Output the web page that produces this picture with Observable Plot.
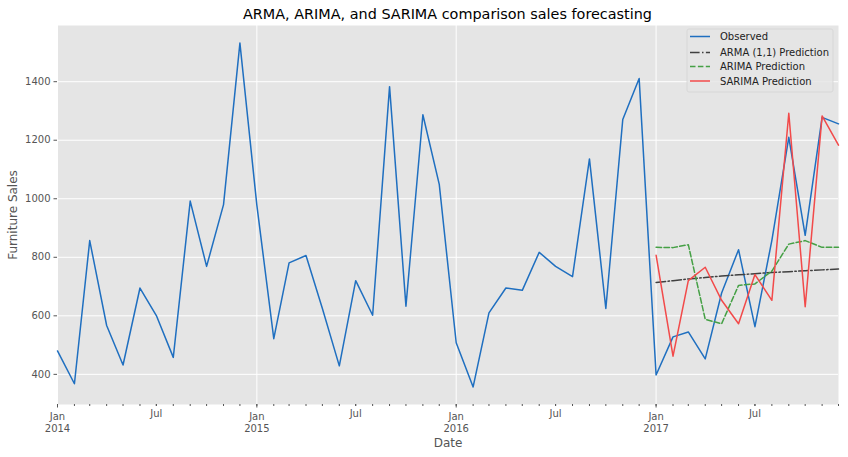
<!DOCTYPE html>
<html>
<head>
<meta charset="utf-8">
<script src="https://cdn.jsdelivr.net/npm/d3@7"></script>
<script src="https://cdn.jsdelivr.net/npm/@observablehq/plot@0.6"></script>
<style>
  body { margin: 0; background: #fff; }
  #chart { position: relative; width: 848px; height: 457px; }
  #chart svg.overlay { position: absolute; left: 0; top: 0; pointer-events: none; }
</style>
</head>
<body>
<div id="chart"></div>
<script>
// monthly furniture sales, Jan 2014 - Dec 2017
const observed = [480, 368, 857, 567, 432, 695, 601, 458, 992, 769, 980, 1532,
                  978, 522, 781, 806, 625, 429, 720, 602, 1383, 633, 1287, 1049,
                  508, 357, 610, 695, 687, 817, 769, 734, 1136, 625, 1271, 1411,
                  398, 528, 545, 453, 678, 826, 563, 858, 1210, 875, 1278, 1256]

// 2017 forecasts
const arma   = [714, 720, 726, 731, 736, 740, 744, 748, 751, 754, 757, 760]
const arima  = [834, 833, 843, 588, 573, 704, 709, 753, 845, 857, 834, 834]
const sarima = [807, 462, 720, 766, 653, 573, 741, 653, 1292, 631, 1283, 1183]

const yTicks = [400, 600, 800, 1000, 1200, 1400]

const months = d3.utcMonth.range(new Date(Date.UTC(2014, 0, 1)), new Date(Date.UTC(2018, 0, 1)))
const forecastMonths = months.slice(36)
const janTicks = months.filter(d => d.getUTCMonth() === 0)
const julTicks = months.filter(d => d.getUTCMonth() === 6)

const obsData = months.map((d, i) => ({date: d, value: observed[i]}))
const series = (vals) => forecastMonths.map((d, i) => ({date: d, value: vals[i]}))

const legendItems = [
  {label: 'Observed', color: '#1f6fc0', dash: null},
  {label: 'ARMA (1,1) Prediction', color: '#404040', dash: '9.6,2.4,1.5,2.4'},
  {label: 'ARIMA Prediction', color: '#45a045', dash: '5.5,2.4'},
  {label: 'SARIMA Prediction', color: '#f24a4a', dash: null},
]

let chart = Plot.plot({
  width: 848,
  height: 457,
  marginTop: 25,
  marginLeft: 57,
  marginRight: 10,
  marginBottom: 53,
  style: {
    backgroundColor: '#fff',
    fontFamily: 'DejaVu Sans',
    fontSize: '10px',
    color: '#555',
  },
  x: {
    type: 'utc',
    domain: [months[0], months[months.length - 1]],
  },
  y: {
    domain: [297, 1592],
  },
  marks: [
    Plot.frame({fill: '#E5E5E5'}),
    Plot.gridY(yTicks, {stroke: '#fff', strokeOpacity: 1, strokeWidth: 1}),
    Plot.gridX(janTicks, {stroke: '#fff', strokeOpacity: 1, strokeWidth: 1}),

    // month minor ticks
    Plot.axisX(months, {tickSize: 2, tickFormat: () => '', label: null, stroke: '#555'}),
    Plot.axisX(julTicks, {tickSize: 2, tickPadding: 3.5, tickFormat: () => 'Jul', label: null, stroke: '#555'}),
    Plot.axisX(janTicks, {
      tickSize: 3.5, tickPadding: 3.5, lineHeight: 1.2,
      tickFormat: d => 'Jan\n' + d.getUTCFullYear(),
      label: null, stroke: '#555'
    }),
    Plot.axisY(yTicks, {
      tickSize: 3.5, tickPadding: 3.5, tickFormat: d => String(d),
      label: null, stroke: '#555'
    }),
    // axis titles, larger font
    Plot.axisX([], {tickSize: 0, label: 'Date', labelAnchor: 'center', labelArrow: 'none', labelOffset: 42, fontSize: 12}),
    Plot.axisY([], {tickSize: 0, label: 'Furniture Sales', labelAnchor: 'center', labelArrow: 'none', labelOffset: 49, fontSize: 12}),

    Plot.lineY(obsData, {x: 'date', y: 'value', stroke: legendItems[0].color, strokeWidth: 1.5}),
    Plot.lineY(series(arma), {x: 'date', y: 'value', stroke: legendItems[1].color, strokeWidth: 1.5, strokeDasharray: legendItems[1].dash}),
    Plot.lineY(series(arima), {x: 'date', y: 'value', stroke: legendItems[2].color, strokeWidth: 1.5, strokeDasharray: legendItems[2].dash}),
    Plot.lineY(series(sarima), {x: 'date', y: 'value', stroke: legendItems[3].color, strokeWidth: 1.5}),
  ]
})

d3.select('#chart').append(() => chart)

// title + legend drawn on top, matplotlib style
const over = d3.select('#chart').append('svg')
  .attr('class', 'overlay')
  .attr('width', 848).attr('height', 457)
  .style('font-family', 'DejaVu Sans')

over.append('text')
  .attr('x', 447.5).attr('y', 18.5)
  .attr('text-anchor', 'middle')
  .attr('font-size', 14.4)
  .attr('fill', '#000')
  .text('ARMA, ARIMA, and SARIMA comparison sales forecasting')

const lg = over.append('g').attr('transform', 'translate(687,29)')
lg.append('rect')
  .attr('width', 146).attr('height', 63).attr('rx', 2)
  .attr('fill', '#E5E5E5').attr('fill-opacity', 0.85)
  .attr('stroke', '#d4d4d4').attr('stroke-width', 0.8)

const rowY = [7.5, 23.5, 37.5, 52]
legendItems.forEach((it, i) => {
  lg.append('line')
    .attr('x1', 3).attr('x2', 23).attr('y1', rowY[i]).attr('y2', rowY[i])
    .attr('stroke', it.color).attr('stroke-width', 1.5)
    .attr('stroke-dasharray', it.dash)
  lg.append('text')
    .attr('x', 33).attr('y', rowY[i]).attr('dy', '0.35em')
    .attr('font-size', 10).attr('fill', '#222')
    .text(it.label)
})
</script>
</body>
</html>
